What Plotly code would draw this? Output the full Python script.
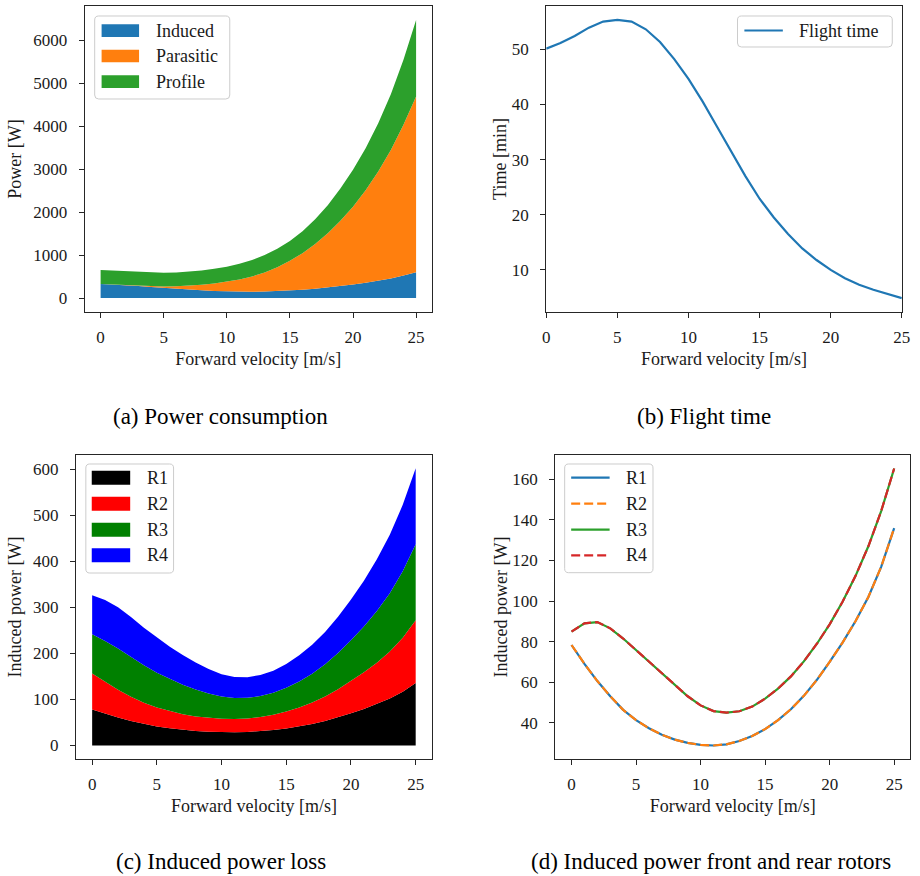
import plotly.graph_objects as go

# ---- data -------------------------------------------------------------
velocity = list(range(26))  # forward velocity [m/s]

# induced power per rotor [W] (front pair R1/R2, rear pair R3/R4)
r1 = [78.3, 69.0, 60.5, 53.0, 46.3, 41.2, 37.2, 34.0, 31.6, 30.0, 29.0, 28.7, 29.3,
      30.9, 33.4, 36.8, 41.2, 46.6, 53.2, 61.0, 70.0, 79.5, 90.0, 102.0, 117.0, 136.0]
r2 = list(r1)
r3 = [84.9, 89.0, 89.6, 86.5, 81.5, 75.8, 70.0, 64.2, 58.5, 53.0, 48.5, 45.7, 44.9,
      45.6, 47.9, 51.8, 56.8, 62.8, 70.2, 78.8, 88.5, 99.6, 112.3, 127.0, 144.5, 165.4]
r4 = list(r3)

# power components [W]
induced = [a + b + c + d for a, b, c, d in zip(r1, r2, r3, r4)]
parasitic = [0, 0.3, 2, 7, 17, 35, 60, 92, 130, 175, 225, 285, 355, 445, 555, 690,
             850, 1040, 1260, 1520, 1810, 2150, 2540, 2990, 3510, 4090]
profile = [330, 329, 327, 325, 323, 322, 323, 326, 331, 339, 350, 364, 382, 404, 430,
           462, 512, 575, 655, 750, 860, 980, 1125, 1300, 1515, 1780]

# flight time [min]
flight_time = [50.1, 51.1, 52.4, 53.9, 55.0, 55.3, 55.0, 53.6, 51.3, 48.2, 44.6, 40.5,
               36.0, 31.5, 27.0, 22.9, 19.5, 16.5, 13.9, 11.8, 10.0, 8.5, 7.3, 6.4, 5.6, 4.9]

x_ticks = [0, 5, 10, 15, 20, 25]
power_ticks = [0, 1000, 2000, 3000, 4000, 5000, 6000]
time_ticks = [10, 20, 30, 40, 50]
stack_ticks = [0, 100, 200, 300, 400, 500, 600]
rotor_ticks = [40, 60, 80, 100, 120, 140, 160]

captions = ["(a) Power consumption", "(b) Flight time",
            "(c) Induced power loss", "(d) Induced power front and rear rotors"]

# ---- style ------------------------------------------------------------
W, H = 920, 876
SERIF = "'Liberation Serif', 'Times New Roman', Times, serif"
INK = "#1a1a1a"
SPINE = "#262626"
C0, C1, C2, C3 = "#1f77b4", "#ff7f0e", "#2ca02c", "#d62728"


def px(x, y):
    return x / W, 1 - y / H


fig = go.Figure()

# (a) stacked power components
for name, vals, col in [("Induced", induced, C0), ("Parasitic", parasitic, C1),
                        ("Profile", profile, C2)]:
    fig.add_trace(go.Scatter(x=velocity, y=vals, name=name, stackgroup="a",
                             mode="lines", line=dict(width=0, color=col),
                             fillcolor=col, xaxis="x", yaxis="y", showlegend=False))

# (b) flight time
fig.add_trace(go.Scatter(x=velocity, y=flight_time, name="Flight time", mode="lines",
                         line=dict(color=C0, width=2.2), xaxis="x2", yaxis="y2",
                         showlegend=False))

# (c) stacked induced power per rotor
for name, vals, col in [("R1", r1, "#000000"), ("R2", r2, "#ff0000"),
                        ("R3", r3, "#008000"), ("R4", r4, "#0000ff")]:
    fig.add_trace(go.Scatter(x=velocity, y=vals, name=name, stackgroup="c",
                             mode="lines", line=dict(width=0, color=col),
                             fillcolor=col, xaxis="x3", yaxis="y3", showlegend=False))

# (d) induced power per rotor
DASH = "9px,4px"
for name, vals, col, dash in [("R1", r1, C0, "solid"), ("R2", r2, C1, DASH),
                              ("R3", r3, C2, "solid"), ("R4", r4, C3, DASH)]:
    fig.add_trace(go.Scatter(x=velocity, y=vals, name=name, mode="lines",
                             line=dict(color=col, width=2.2, dash=dash),
                             xaxis="x4", yaxis="y4", showlegend=False))


def axis_style(**kw):
    base = dict(showline=True, linecolor=SPINE, linewidth=1.3, mirror=True,
                ticks="outside", ticklen=5, tickwidth=1.2, tickcolor=SPINE,
                showgrid=False, zeroline=False,
                tickfont=dict(family=SERIF, size=17, color=INK),
                title_font=dict(family=SERIF, size=18, color=INK))
    base.update(kw)
    return base


def x_axis(domain, rng, anchor):
    return axis_style(domain=domain, range=rng, anchor=anchor, tickvals=x_ticks,
                      ticklabelstandoff=4,
                      title=dict(text="Forward velocity [m/s]", standoff=6))


def y_axis(domain, rng, anchor, ticks, title, standoff=6):
    return axis_style(domain=domain, range=rng, anchor=anchor, tickvals=ticks,
                      ticklabelstandoff=8, title=dict(text=title, standoff=standoff))


top = [1 - 312 / H, 1 - 6 / H]
bottom = [1 - 759.3 / H, 1 - 454.7 / H]

fig.update_layout(
    width=W, height=H, margin=dict(l=0, r=0, t=0, b=0),
    paper_bgcolor="white", plot_bgcolor="white", showlegend=False,
    font=dict(family=SERIF, color=INK),
    xaxis=x_axis([82 / W, 434 / W], [-1.25, 26.25], "y"),
    yaxis=y_axis(top, [-324, 6800], "x", power_ticks, "Power [W]"),
    xaxis2=x_axis([550 / W, 910.7 / W], [0, 25], "y2"),
    yaxis2=y_axis(top, [2.38, 57.82], "x2", time_ticks, "Time [min]", 0),
    xaxis3=x_axis([73 / W, 434 / W], [-1.25, 26.25], "y3"),
    yaxis3=y_axis(bottom, [-30.1, 632], "x3", stack_ticks, "Induced power [W]"),
    xaxis4=x_axis([559.3 / W, 919.3 / W], [-1.25, 26.25], "y4"),
    yaxis4=y_axis(bottom, [21.9, 172.2], "x4", rotor_ticks, "Induced power [W]", 0),
)

# ---- legends drawn as framed boxes ------------------------------------
shapes, annotations = [], []


def frame(x0, y0, x1, y1, r=4):
    pts = [("M", x0 + r, y0), ("L", x1 - r, y0), ("Q", x1, y0, x1, y0 + r),
           ("L", x1, y1 - r), ("Q", x1, y1, x1 - r, y1), ("L", x0 + r, y1),
           ("Q", x0, y1, x0, y1 - r), ("L", x0, y0 + r), ("Q", x0, y0, x0 + r, y0)]
    path = ""
    for p in pts:
        cmd, coords = p[0], p[1:]
        seg = []
        for i in range(0, len(coords), 2):
            fx, fy = px(coords[i], coords[i + 1])
            seg.append(f"{fx:.5f},{fy:.5f}")
        path += cmd + " ".join(seg) + " "
    shapes.append(dict(type="path", path=path + "Z", xref="paper", yref="paper",
                       fillcolor="rgba(255,255,255,0.8)",
                       line=dict(color="#cccccc", width=1)))


def label(x, y, text):
    fx, fy = px(x, y)
    annotations.append(dict(x=fx, y=fy, xref="paper", yref="paper", text=text,
                            showarrow=False, xanchor="left", yanchor="middle",
                            font=dict(family=SERIF, size=18, color=INK)))


def patch_entry(x0, x1, y, h, color, text, tx):
    a = px(x0, y - h / 2)
    b = px(x1, y + h / 2)
    shapes.append(dict(type="rect", xref="paper", yref="paper", x0=a[0], x1=b[0],
                       y0=b[1], y1=a[1], fillcolor=color, line=dict(width=0)))
    label(tx, y, text)


def line_entry(x0, x1, y, color, dash, text, tx):
    a = px(x0, y)
    b = px(x1, y)
    shapes.append(dict(type="line", xref="paper", yref="paper", x0=a[0], x1=b[0],
                       y0=a[1], y1=b[1], line=dict(color=color, width=2.2, dash=dash)))
    label(tx, y, text)


# (a)
frame(92, 16, 229, 99)
for (name, col), y in zip([("Induced", C0), ("Parasitic", C1), ("Profile", C2)],
                          [30.7, 56.0, 81.7]):
    patch_entry(99, 137, y, 12.7, col, name, 151.7)

# (b)
frame(744, 16, 901, 47)
line_entry(751, 790, 30.5, C0, "solid", "Flight time", 804)

rows = [477.7, 503.7, 529.7, 555.3]
# (c)
frame(83, 464, 172, 573)
for (name, col), y in zip([("R1", "#000000"), ("R2", "#ff0000"),
                           ("R3", "#008000"), ("R4", "#0000ff")], rows):
    patch_entry(89, 128, y, 14, col, name, 143)

# (d)
frame(568.7, 464, 658.3, 572.7)
for (name, col, dash), y in zip([("R1", C0, "solid"), ("R2", C1, DASH),
                                 ("R3", C2, "solid"), ("R4", C3, DASH)], rows):
    line_entry(575.3, 614.3, y, col, dash, name, 628.7)

# ---- captions ---------------------------------------------------------
for text, cx, cy in zip(captions, [220, 710, 220, 717], [416, 416, 861, 861]):
    fx, fy = px(cx, cy)
    annotations.append(dict(x=fx, y=fy, xref="paper", yref="paper", text=text,
                            showarrow=False, xanchor="center", yanchor="middle",
                            font=dict(family=SERIF, size=23, color="#000000")))

fig.update_layout(shapes=shapes, annotations=annotations)
fig.write_html("out.html")
